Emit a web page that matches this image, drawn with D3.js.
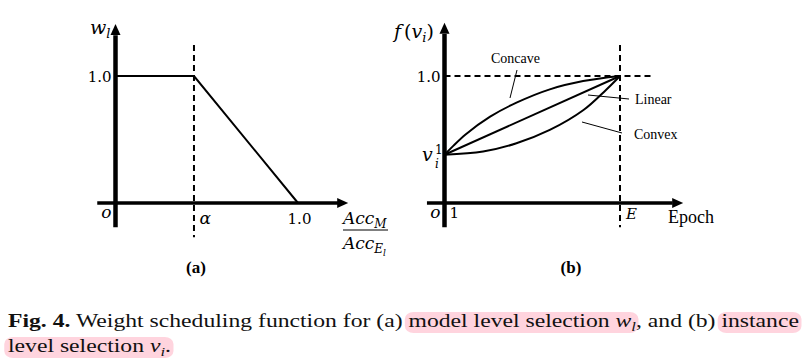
<!DOCTYPE html>
<html>
<head>
<meta charset="utf-8">
<script src="https://cdn.jsdelivr.net/npm/d3@7"></script>
<style>
  body { margin: 0; background: #fff; }
  svg { display: block; }
  text { white-space: pre; }
</style>
</head>
<body>
<script>
// ---- Panel (a): model-level weight w_l against Acc_M / Acc_El ----
const ratioPoints  = [0, 0.43, 1.0];   // 0, alpha, 1.0
const weightPoints = [1.0, 1.0, 0.0];
const alphaValue   = 0.43;
const ticksA       = [{ v: alphaValue, label: "α" }, { v: 1.0, label: "1.0" }];

// ---- Panel (b): instance-level schedule f(v_i) over epochs (E = 1) ----
const startValue   = 0.38;             // v_i^1
const concaveEpoch = [0, 0.05, 0.12, 0.26, 0.41, 0.60, 0.79, 1.0];
const concaveValue = [0.38, 0.45, 0.54, 0.68, 0.79, 0.895, 0.96, 1.0];
const linearEpoch  = [0, 1.0];
const linearValue  = [0.38, 1.0];
const convexEpoch  = [0, 0.22, 0.41, 0.60, 0.79, 0.92, 1.0];
const convexValue  = [0.38, 0.405, 0.47, 0.575, 0.73, 0.89, 1.0];
const curveNames   = ["Concave", "Linear", "Convex"];

const W = 804, H = 361;
const svg = d3.select("body").append("svg").attr("width", W).attr("height", H);

const MATH = "'DejaVu Serif', serif";
const TEXT = "'Liberation Serif', 'Times New Roman', serif";

// shared vertical scale (value 0 .. 1)
const y = d3.scaleLinear().domain([0, 1]).range([203, 76]);
const xa = d3.scaleLinear().domain([0, 1]).range([115.5, 298]);
const xb = d3.scaleLinear().domain([0, 1]).range([444.5, 620]);

function arrowUp(g, x, yTip) {
  g.append("path").attr("d", `M${x},${yTip} L${x - 5},${yTip + 11} L${x + 5},${yTip + 11} Z`).attr("fill", "#000");
}
function arrowRight(g, xTip, yy) {
  g.append("path").attr("d", `M${xTip},${yy} L${xTip - 11},${yy - 5} L${xTip - 11},${yy + 5} Z`).attr("fill", "#000");
}

// ================= Panel (a) =================
const ga = svg.append("g");
// dashed guide at alpha
ga.append("line")
  .attr("x1", xa(alphaValue)).attr("x2", xa(alphaValue))
  .attr("y1", y(1.245)).attr("y2", y(-0.27))
  .attr("stroke", "#000").attr("stroke-width", 2).attr("stroke-dasharray", "6,4");
// axes
ga.append("line").attr("x1", xa(0)).attr("x2", xa(0)).attr("y1", y(-0.19)).attr("y2", y(1.32))
  .attr("stroke", "#000").attr("stroke-width", 4.5);
arrowUp(ga, xa(0), y(1.41));
ga.append("line").attr("x1", xa(-0.1)).attr("x2", xa(1.22)).attr("y1", y(0)).attr("y2", y(0))
  .attr("stroke", "#000").attr("stroke-width", 3.5);
arrowRight(ga, xa(1.275), y(0));
// weight function
const lineA = d3.line().x(d => xa(d[0])).y(d => y(d[1]));
ga.append("path").datum(d3.zip(ratioPoints, weightPoints))
  .attr("d", lineA).attr("fill", "none").attr("stroke", "#000").attr("stroke-width", 2);

// tick labels via axes
const yAxisA = ga.append("g").attr("transform", `translate(${xa(0) - 4},0)`)
  .call(d3.axisLeft(y).tickValues([1]).tickFormat(d3.format(".1f")).tickSize(0).tickPadding(0));
yAxisA.select(".domain").remove();
yAxisA.selectAll("text").attr("font-family", MATH).attr("font-size", 15).attr("fill", "#000").attr("dy", "0.36em");

const xAxisA = ga.append("g").attr("transform", `translate(0,${y(0) + 21})`)
  .call(d3.axisBottom(xa).tickValues(ticksA.map(d => d.v))
    .tickFormat((d, i) => ticksA[i].label).tickSize(0).tickPadding(0));
xAxisA.select(".domain").remove();
xAxisA.selectAll("text").attr("font-family", MATH).attr("fill", "#000")
  .attr("dy", 0)
  .attr("font-size", (d, i) => i === 0 ? 17 : 15)
  .attr("font-style", (d, i) => i === 0 ? "italic" : "normal")
  .attr("text-anchor", (d, i) => i === 0 ? "start" : "middle")
  .attr("dx", (d, i) => i === 0 ? 5 : 1);

// origin
ga.append("text").attr("x", xa(0) - 4).attr("y", 218).attr("text-anchor", "end")
  .attr("font-family", MATH).attr("font-style", "italic").attr("font-size", 17).text("o");
// y title w_l
const wl = ga.append("text").attr("x", 90).attr("y", 34).attr("font-family", MATH).attr("font-style", "italic").attr("font-size", 19);
wl.append("tspan").text("w");
wl.append("tspan").attr("font-size", 13).attr("dy", 4).text("l");
// x title Acc_M / Acc_El
const num = ga.append("text").attr("x", 343).attr("y", 224).attr("font-family", MATH).attr("font-style", "italic").attr("font-size", 17);
num.append("tspan").text("Acc");
num.append("tspan").attr("font-size", 12).attr("dy", 4).text("M");
ga.append("line").attr("x1", 343).attr("x2", 388).attr("y1", 230).attr("y2", 230).attr("stroke", "#555").attr("stroke-width", 1.5);
const den = ga.append("text").attr("x", 343).attr("y", 249).attr("font-family", MATH).attr("font-style", "italic").attr("font-size", 17);
den.append("tspan").text("Acc");
den.append("tspan").attr("font-size", 12).attr("dy", 4).text("E");
den.append("tspan").attr("font-size", 9).attr("dy", 3).text("l");
ga.append("text").attr("x", 196).attr("y", 273).attr("text-anchor", "middle")
  .attr("font-family", TEXT).attr("font-weight", "bold").attr("font-size", 17).text("(a)");

// ================= Panel (b) =================
const gb = svg.append("g");
gb.append("line").attr("x1", xb(0)).attr("x2", xb(1.185)).attr("y1", y(1)).attr("y2", y(1))
  .attr("stroke", "#000").attr("stroke-width", 2).attr("stroke-dasharray", "6,4");
gb.append("line").attr("x1", xb(1)).attr("x2", xb(1)).attr("y1", y(1.245)).attr("y2", y(-0.19))
  .attr("stroke", "#000").attr("stroke-width", 2).attr("stroke-dasharray", "6,4");
gb.append("line").attr("x1", xb(0)).attr("x2", xb(0)).attr("y1", y(-0.19)).attr("y2", y(1.33))
  .attr("stroke", "#000").attr("stroke-width", 4.5);
arrowUp(gb, xb(0), y(1.42));
gb.append("line").attr("x1", xb(-0.1)).attr("x2", xb(1.3)).attr("y1", y(0)).attr("y2", y(0))
  .attr("stroke", "#000").attr("stroke-width", 3.5);
arrowRight(gb, xb(1.36), y(0));

const curveLine = d3.line().x(d => xb(d[0])).y(d => y(d[1])).curve(d3.curveCatmullRom.alpha(0.5));
[[concaveEpoch, concaveValue], [linearEpoch, linearValue], [convexEpoch, convexValue]].forEach(([ex, vy]) => {
  gb.append("path").datum(d3.zip(ex, vy)).attr("d", curveLine)
    .attr("fill", "none").attr("stroke", "#000").attr("stroke-width", 2);
});

const yAxisB = gb.append("g").attr("transform", `translate(${xb(0) - 4},0)`)
  .call(d3.axisLeft(y).tickValues([1]).tickFormat(d3.format(".1f")).tickSize(0).tickPadding(0));
yAxisB.select(".domain").remove();
yAxisB.selectAll("text").attr("font-family", MATH).attr("font-size", 15).attr("fill", "#000").attr("dy", "0.36em");

// v_i^1
gb.append("text").attr("x", 422).attr("y", 161).attr("font-family", MATH).attr("font-style", "italic").attr("font-size", 19).text("v");
gb.append("text").attr("x", 435).attr("y", 154).attr("font-family", MATH).attr("font-size", 12).text("1");
gb.append("text").attr("x", 435).attr("y", 168).attr("font-family", MATH).attr("font-style", "italic").attr("font-size", 12).text("i");

// x labels: o, 1, E
gb.append("text").attr("x", xb(0) - 4).attr("y", 218).attr("text-anchor", "end")
  .attr("font-family", MATH).attr("font-style", "italic").attr("font-size", 17).text("o");
gb.append("text").attr("x", xb(0) + 5).attr("y", 218)
  .attr("font-family", MATH).attr("font-size", 15).text("1");
gb.append("text").attr("x", xb(1) + 6).attr("y", 219)
  .attr("font-family", MATH).attr("font-style", "italic").attr("font-size", 15).text("E");
gb.append("text").attr("x", 668).attr("y", 223)
  .attr("font-family", TEXT).attr("font-size", 18).text("Epoch");

// y title f(v_i)
const fv = gb.append("text").attr("x", 394).attr("y", 38).attr("font-family", MATH).attr("font-style", "italic").attr("font-size", 19);
fv.append("tspan").text("f");
fv.append("tspan").attr("font-style", "normal").attr("dx", 3).text("(");
fv.append("tspan").text("v");
fv.append("tspan").attr("font-size", 13).attr("dy", 4).text("i");
fv.append("tspan").attr("font-style", "normal").attr("dy", -4).text(")");

// curve annotations with leader lines
const notes = [
  { name: curveNames[0], tx: 491, ty: 63, l: [517, 70, 510, 98] },
  { name: curveNames[1], tx: 635, ty: 104, l: [588, 95, 629, 99] },
  { name: curveNames[2], tx: 634, ty: 139, l: [582, 122, 622, 133] }
];
notes.forEach(n => {
  gb.append("line").attr("x1", n.l[0]).attr("y1", n.l[1]).attr("x2", n.l[2]).attr("y2", n.l[3])
    .attr("stroke", "#000").attr("stroke-width", 1);
  gb.append("text").attr("x", n.tx).attr("y", n.ty).attr("font-family", TEXT).attr("font-size", 14).text(n.name);
});
gb.append("text").attr("x", 571).attr("y", 273).attr("text-anchor", "middle")
  .attr("font-family", TEXT).attr("font-weight", "bold").attr("font-size", 17).text("(b)");

// ================= Caption =================
const captionLines = [
  [
    { parts: [{ t: "Fig. 4.", b: true }] },
    { parts: [{ t: " Weight scheduling function for (a) " }] },
    { parts: [{ t: "model level selection " }, { t: "w", i: true }, { t: "l", i: true, sub: true }], hl: true },
    { parts: [{ t: ", and (b) " }] },
    { parts: [{ t: "instance" }], hl: true }
  ],
  [
    { parts: [{ t: "level selection " }, { t: "v", i: true }, { t: "i", i: true, sub: true }, { t: "." }], hl: true }
  ]
];
const caption = svg.append("g");
const capHl = caption.append("g");
const capTx = caption.append("g");
const CAP_SIZE = 19;

let lineOneWidth = 0;
captionLines.forEach((line, li) => {
  const base = 327 + li * 25;
  let x = 8;
  line.forEach(seg => {
    const t = capTx.append("text").attr("x", x).attr("y", base)
      .attr("font-family", TEXT).attr("font-size", CAP_SIZE).attr("fill", "#111");
    let lowered = false;
    seg.parts.forEach(p => {
      const ts = t.append("tspan").text(p.t);
      if (p.b) ts.attr("font-weight", "bold");
      if (p.i) ts.attr("font-style", "italic");
      if (p.sub) { ts.attr("font-size", CAP_SIZE * 0.7).attr("dy", CAP_SIZE * 0.2); lowered = true; }
      else if (lowered) { ts.attr("dy", -CAP_SIZE * 0.2); lowered = false; }
    });
    const w = t.node().getComputedTextLength();
    if (seg.hl) {
      capHl.append("rect").attr("x", x - 3).attr("y", base - 15)
        .attr("width", w + 5).attr("height", 21).attr("rx", 7)
        .attr("fill", "#ffd4de");
    }
    x += w;
  });
  if (li === 0) lineOneWidth = x - 8;
});
// widen the caption horizontally so the first line runs the full page width
const k = 791 / lineOneWidth;
caption.attr("transform", `translate(8,0) scale(${k},1) translate(-8,0)`);
</script>
</body>
</html>
